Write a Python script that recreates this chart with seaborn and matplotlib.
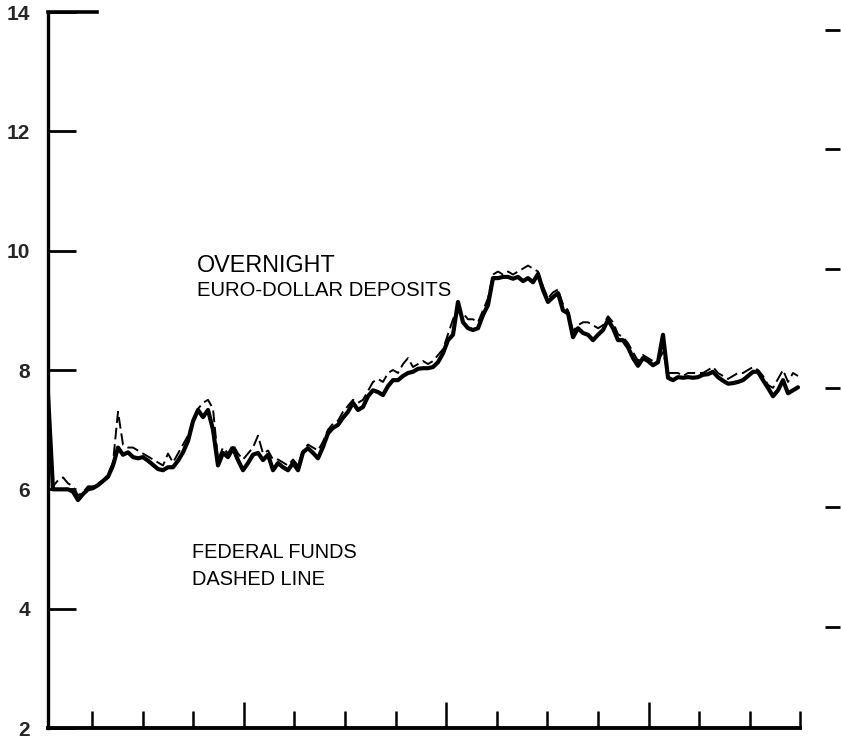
import numpy as np
import pandas as pd
import seaborn as sns
import matplotlib.pyplot as plt

## values, one reading every few days
euro_dollar = [
    7.60, 6.00, 6.00, 6.00, 6.00, 5.96, 5.82, 5.92, 6.00, 6.02,
    6.07, 6.14, 6.21, 6.40, 6.70, 6.58, 6.62, 6.54, 6.52, 6.54,
    6.48, 6.41, 6.34, 6.32, 6.37, 6.37, 6.48, 6.62, 6.81, 7.14,
    7.33, 7.21, 7.33, 7.00, 6.40, 6.61, 6.54, 6.69, 6.49, 6.32,
    6.44, 6.58, 6.61, 6.49, 6.58, 6.32, 6.44, 6.37, 6.32, 6.44,
    6.32, 6.62, 6.69, 6.61, 6.52, 6.71, 6.94, 7.03, 7.08, 7.20,
    7.30, 7.45, 7.33, 7.38, 7.56, 7.66, 7.63, 7.58, 7.73, 7.83,
    7.83, 7.90, 7.95, 7.97, 8.02, 8.03, 8.03, 8.05, 8.13, 8.28,
    8.50, 8.59, 9.14, 8.80, 8.70, 8.67, 8.70, 8.92, 9.09, 9.54,
    9.54, 9.56, 9.56, 9.53, 9.56, 9.49, 9.54, 9.47, 9.61, 9.34,
    9.14, 9.22, 9.29, 9.00, 8.95, 8.55, 8.70, 8.62, 8.59, 8.50,
    8.59, 8.67, 8.84, 8.70, 8.50, 8.50, 8.38, 8.20, 8.07, 8.20,
    8.15, 8.08, 8.13, 8.59, 7.87, 7.83, 7.88, 7.87, 7.88, 7.87,
    7.88, 7.92, 7.93, 7.97, 7.88, 7.82, 7.77, 7.78, 7.80, 7.83,
    7.90, 7.97, 7.97, 7.83, 7.70, 7.56, 7.66, 7.83, 7.61, 7.66,
    7.71,
]

federal_funds = [
    7.50, 6.05, 6.15, 6.20, 6.10, 6.05, 5.90, 5.95, 6.05, 6.05,
    6.10, 6.15, 6.25, 6.45, 7.30, 6.75, 6.70, 6.70, 6.65, 6.60,
    6.55, 6.50, 6.45, 6.40, 6.60, 6.45, 6.60, 6.75, 6.90, 7.15,
    7.35, 7.45, 7.50, 7.35, 6.50, 6.70, 6.60, 6.75, 6.60, 6.50,
    6.60, 6.70, 6.90, 6.60, 6.65, 6.50, 6.50, 6.45, 6.40, 6.50,
    6.40, 6.65, 6.75, 6.70, 6.65, 6.80, 7.00, 7.10, 7.15, 7.30,
    7.40, 7.50, 7.45, 7.50, 7.65, 7.80, 7.85, 7.80, 7.95, 8.00,
    7.95, 8.10, 8.20, 8.05, 8.10, 8.15, 8.10, 8.15, 8.25, 8.35,
    8.60, 8.85, 9.05, 8.95, 8.85, 8.85, 8.80, 9.00, 9.20, 9.60,
    9.65, 9.60, 9.65, 9.60, 9.65, 9.70, 9.75, 9.70, 9.65, 9.40,
    9.20, 9.30, 9.35, 9.10, 9.00, 8.65, 8.75, 8.80, 8.80, 8.75,
    8.70, 8.75, 8.90, 8.80, 8.60, 8.55, 8.45, 8.30, 8.15, 8.25,
    8.20, 8.15, 8.15, 8.30, 7.95, 7.95, 7.95, 7.90, 7.95, 7.95,
    7.95, 7.95, 8.00, 8.05, 7.95, 7.90, 7.85, 7.90, 7.95, 7.95,
    8.00, 8.05, 8.00, 7.90, 7.75, 7.70, 7.85, 8.00, 7.80, 7.95,
    7.90,
]

y_ticks = [2, 4, 6, 8, 10, 12, 14]
y_labels = ['2', '4', '6', '8', '10', '12', '14']

df = pd.DataFrame({
    'obs': np.arange(len(euro_dollar)),
    'euro': euro_dollar,
    'fed': federal_funds,
})

sns.set_style('ticks')
plt.rcParams['font.family'] = ['Liberation Sans', 'DejaVu Sans']

fig = plt.figure(figsize=(8.41, 7.45), dpi=100)
ax = fig.add_axes([48 / 841, 17 / 745, 792 / 841, 716 / 745])

## fed funds, thin dashed line
sns.lineplot(data=df, x='obs', y='fed', ax=ax, color='black',
             linewidth=1.4, dashes=False)
ax.lines[-1].set_dashes((6, 2.5))
## overnight euro-dollar, heavy solid line
sns.lineplot(data=df, x='obs', y='euro', ax=ax, color='black',
             linewidth=3.0)

ax.set_xlim(0, 158.4)
ax.set_ylim(2, 14)
ax.set_xlabel('')
ax.set_ylabel('')

## spines: left and bottom only, short stub at the top
for side in ['left', 'bottom', 'top']:
    ax.spines[side].set_color('black')
ax.spines['left'].set_linewidth(2.4)
ax.spines['bottom'].set_linewidth(2.8)
ax.spines['bottom'].set_bounds(0, 150.4)
ax.spines['top'].set_linewidth(2.6)
ax.spines['top'].set_bounds(0, 9.8)
ax.spines['right'].set_visible(False)

## y ticks on the left, inward with labels
ax.set_yticks(y_ticks)
ax.set_yticklabels(y_labels, fontsize=15, fontweight='bold')
ax.tick_params(axis='y', which='major', direction='in', length=20,
               width=2, pad=13, left=True, right=False, color='black')

## x ticks: inward marks, longer every fourth
major_x = [39.16, 79.64, 120.12]
minor_x = [8.80, 18.92, 29.04, 49.28, 59.40, 69.52, 89.76, 99.88,
           110.00, 130.24, 140.36, 150.48]
ax.set_xticks(major_x)
ax.set_xticks(minor_x, minor=True)
ax.set_xticklabels([])
ax.tick_params(axis='x', which='major', direction='in', length=19,
               width=1.8, color='black')
ax.tick_params(axis='x', which='minor', direction='in', length=12.5,
               width=1.8, color='black')

## right-hand marks (no axis line)
ax2 = ax.twinx()
ax2.set_ylim(2, 14)
ax2.set_yticks([3.7, 5.7, 7.7, 9.7, 11.7, 13.7])
ax2.set_yticklabels([])
ax2.tick_params(axis='y', direction='in', length=11, width=2,
                color='black')
for side in ['left', 'right', 'top', 'bottom']:
    ax2.spines[side].set_visible(False)

## annotations
ax.text(29.8, 9.64, 'OVERNIGHT', fontsize=16.8, color='black',
        va='baseline', ha='left')
ax.text(29.8, 9.24, 'EURO-DOLLAR DEPOSITS', fontsize=14.6,
        color='black', va='baseline', ha='left')
ax.text(28.8, 4.85, 'FEDERAL FUNDS', fontsize=14.3, color='black',
        va='baseline', ha='left')
ax.text(28.8, 4.40, 'DASHED LINE', fontsize=14.4, color='black',
        va='baseline', ha='left')

fig.savefig('out.png', dpi=100)
plt.close(fig)
